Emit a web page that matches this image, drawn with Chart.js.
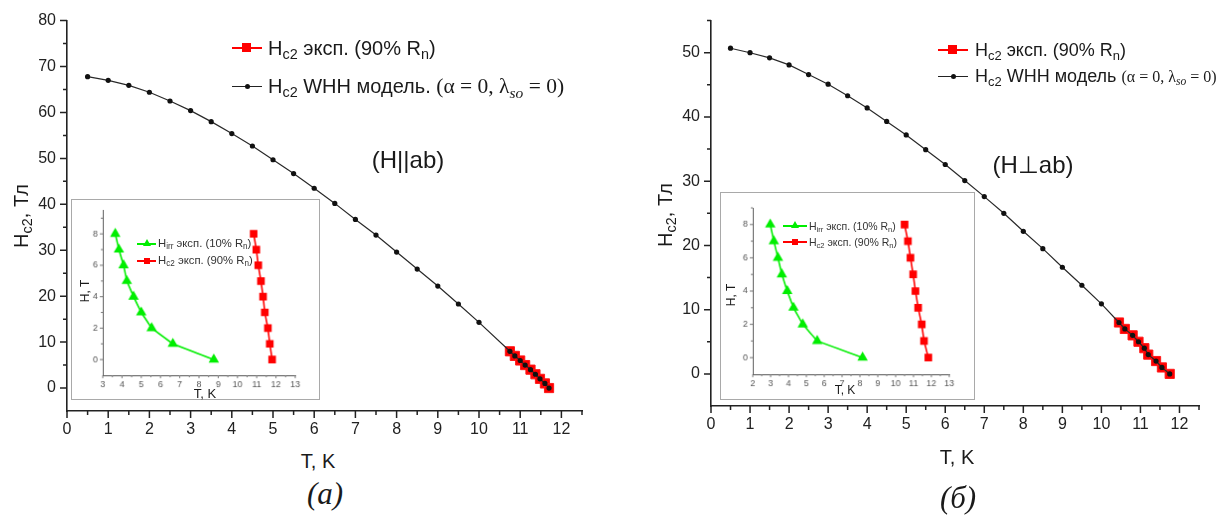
<!DOCTYPE html>
<html lang="ru">
<head>
<meta charset="utf-8">
<title>Hc2(T)</title>
<script src="https://cdn.jsdelivr.net/npm/chart.js@4.4.1/dist/chart.umd.min.js"></script>
<style>
    body {
        margin: 0;
        width: 1225px;
        height: 522px;
        position: relative;
        overflow: hidden;
        background: #fff;
        color: #1a1a1a;
        font-family: "Liberation Sans", Arial, sans-serif;
    }
    canvas { position: absolute; }
    .inset { background: #fff; border: 1px solid #a9a9a9; z-index: 2; }
    .t { position: absolute; white-space: nowrap; z-index: 3; line-height: 1; }
    .c { transform: translate(-50%, -50%); }
    .rot { transform: translate(-50%, -50%) rotate(-90deg); }
    .serif { font-family: "Liberation Serif", "Times New Roman", serif; }
    sub { font-size: 0.72em; vertical-align: -0.3em; line-height: 0; }
    .cap { font-family: "Liberation Serif", serif; font-style: italic; font-size: 31px; }
    .leg { position: absolute; z-index: 3; white-space: nowrap; line-height: 1; }
    .ln { position: absolute; height: 2px; }
    .mk { position: absolute; }
</style>
</head>
<body>

<!-- (a) H || ab -->
<canvas id="chartA" width="600" height="450" style="left:0;top:0"></canvas>
<canvas id="insetA" class="inset" width="249" height="201" style="left:71px;top:199px"></canvas>

<div class="t rot" style="left:21px;top:216px;font-size:20px">H<sub>c2</sub>, Тл</div>
<div class="t c" style="left:318px;top:461px;font-size:20px">T, K</div>
<div class="t c cap" style="left:325px;top:493px">(a)</div>
<div class="t c" style="left:408px;top:160px;font-size:24px">(H||ab)</div>

<div class="leg" style="left:232px;top:48px">
    <span class="ln" style="left:0;width:30px;top:-1px;background:#ff0000"></span>
    <span class="mk" style="left:10px;top:-5px;width:9px;height:9px;background:#ff0000"></span>
    <span class="t" style="left:36px;top:-10px;font-size:20px">H<sub>c2</sub> эксп. (90% R<sub>n</sub>)</span>
</div>
<div class="leg" style="left:232px;top:86px">
    <span class="ln" style="left:0;width:30px;top:-0.5px;height:1px;background:#222"></span>
    <span class="mk" style="left:13px;top:-2px;width:5px;height:5px;border-radius:50%;background:#111"></span>
    <span class="t" style="left:36px;top:-10px;font-size:20px">H<sub>c2</sub> WHH модель. <span class="serif" style="font-size:21.5px">(α = 0, λ<sub><i>so</i></sub> = 0)</span></span>
</div>

<div class="t rot" style="left:85px;top:291px;font-size:12px">H, T</div>
<div class="t c" style="left:205px;top:393px;font-size:13px">T, K</div>
<div class="leg" style="left:137px;top:244px">
    <span class="ln" style="left:0;width:19px;top:-1px;background:#00ee00"></span>
    <span class="mk" style="left:6px;top:-5px;width:0;height:0;border-left:4px solid transparent;border-right:4px solid transparent;border-bottom:7px solid #00ee00"></span>
    <span class="t" style="left:21px;top:-6px;font-size:11.3px;color:#333">H<sub>irr</sub> эксп. (10% R<sub>n</sub>)</span>
</div>
<div class="leg" style="left:137px;top:261px">
    <span class="ln" style="left:0;width:19px;top:-1px;background:#ff0000"></span>
    <span class="mk" style="left:7px;top:-3px;width:6px;height:6px;background:#ff0000"></span>
    <span class="t" style="left:21px;top:-6px;font-size:11.3px;color:#333">H<sub>c2</sub> эксп. (90% R<sub>n</sub>)</span>
</div>

<!-- (б) H ⊥ ab -->
<canvas id="chartB" width="580" height="450" style="left:640px;top:0"></canvas>
<canvas id="insetB" class="inset" width="255" height="208" style="left:720px;top:192px"></canvas>

<div class="t rot" style="left:665px;top:215px;font-size:20px">H<sub>c2</sub>, Тл</div>
<div class="t c" style="left:957px;top:457px;font-size:20px">T, K</div>
<div class="t c cap" style="left:958px;top:497px">(б)</div>
<div class="t c" style="left:1033px;top:165px;font-size:24px">(H⊥ab)</div>

<div class="leg" style="left:938px;top:50px">
    <span class="ln" style="left:0;width:30px;top:-1px;background:#ff0000"></span>
    <span class="mk" style="left:10px;top:-5px;width:9px;height:9px;background:#ff0000"></span>
    <span class="t" style="left:37px;top:-9px;font-size:18px">H<sub>c2</sub> эксп. (90% R<sub>n</sub>)</span>
</div>
<div class="leg" style="left:938px;top:76px">
    <span class="ln" style="left:0;width:30px;top:-0.5px;height:1px;background:#222"></span>
    <span class="mk" style="left:13px;top:-2px;width:5px;height:5px;border-radius:50%;background:#111"></span>
    <span class="t" style="left:37px;top:-9px;font-size:18px">H<sub>c2</sub> WHH модель <span class="serif" style="font-size:16px">(α = 0, λ<sub><i>so</i></sub> = 0)</span></span>
</div>

<div class="t rot" style="left:731px;top:295px;font-size:12px">H, T</div>
<div class="t c" style="left:845px;top:390px;font-size:12px">T, K</div>
<div class="leg" style="left:783px;top:226px">
    <span class="ln" style="left:0;width:24px;top:-1px;background:#00ee00"></span>
    <span class="mk" style="left:8px;top:-5px;width:0;height:0;border-left:4px solid transparent;border-right:4px solid transparent;border-bottom:7px solid #00ee00"></span>
    <span class="t" style="left:26px;top:-5px;font-size:10.5px;color:#333">H<sub>irr</sub> эксп. (10% R<sub>n</sub>)</span>
</div>
<div class="leg" style="left:783px;top:242px">
    <span class="ln" style="left:0;width:24px;top:-1px;background:#ff0000"></span>
    <span class="mk" style="left:9px;top:-3px;width:6px;height:6px;background:#ff0000"></span>
    <span class="t" style="left:26px;top:-5px;font-size:10.5px;color:#333">H<sub>c2</sub> эксп. (90% R<sub>n</sub>)</span>
</div>

<script>
// ========================================
// DATA
// ========================================

// field steps of the experiment, T (same for every experimental curve)
const hExp = [8, 7, 6, 5, 4, 3, 2, 1, 0];

// (a) H || ab : WHH model
const tWhhA = [0.5, 1.0, 1.5, 2.0, 2.5, 3.0, 3.5, 4.0, 4.5, 5.0, 5.5, 6.0, 6.5, 7.0, 7.5, 8.0, 8.5, 9.0, 9.5, 10.0,
               10.75, 10.87, 11.0, 11.12, 11.25, 11.37, 11.48, 11.6, 11.7];
const hWhhA = [67.8, 67.0, 65.9, 64.4, 62.5, 60.4, 58.0, 55.4, 52.7, 49.7, 46.7, 43.5, 40.2, 36.7, 33.3, 29.6, 25.9, 22.2, 18.3, 14.3,
               8, 7, 6, 5, 4, 3, 2, 1, 0];
// (a) experiment, 90% Rn, main plot
const tExpA = [10.75, 10.87, 11.0, 11.12, 11.25, 11.37, 11.48, 11.6, 11.7];
// (a) inset: 10% Rn and 90% Rn
const tIrrA = [3.65, 3.84, 4.08, 4.25, 4.6, 5.0, 5.54, 6.64, 8.77];
const tC2A = [10.84, 10.98, 11.08, 11.22, 11.33, 11.42, 11.58, 11.68, 11.8];

// (б) H ⊥ ab : WHH model
const tWhhB = [0.5, 1.0, 1.5, 2.0, 2.5, 3.0, 3.5, 4.0, 4.5, 5.0, 5.5, 6.0, 6.5, 7.0, 7.5, 8.0, 8.5, 9.0, 9.5, 10.0,
               10.45, 10.6, 10.8, 10.95, 11.1, 11.2, 11.4, 11.55, 11.75];
const hWhhB = [50.7, 50.0, 49.2, 48.1, 46.6, 45.1, 43.3, 41.4, 39.3, 37.2, 34.9, 32.6, 30.1, 27.6, 25.0, 22.2, 19.5, 16.6, 13.8, 10.9,
               8, 7, 6, 5, 4, 3, 2, 1, 0];
const tExpB = [10.45, 10.6, 10.8, 10.95, 11.1, 11.2, 11.4, 11.55, 11.75];
const tIrrB = [2.98, 3.18, 3.41, 3.63, 3.93, 4.28, 4.8, 5.61, 8.15];
const tC2B = [10.5, 10.69, 10.83, 10.98, 11.11, 11.26, 11.46, 11.59, 11.83];

// tick labels
const xTicksMain = [0, 1, 2, 3, 4, 5, 6, 7, 8, 9, 10, 11, 12];
const yTicksA = [0, 10, 20, 30, 40, 50, 60, 70, 80];
const yTicksB = [0, 10, 20, 30, 40, 50];
const xTicksInsetA = [3, 4, 5, 6, 7, 8, 9, 10, 11, 12, 13];
const xTicksInsetB = [2, 3, 4, 5, 6, 7, 8, 9, 10, 11, 12, 13];
const yTicksInset = [0, 2, 4, 6, 8];

// ========================================
// HELPERS
// ========================================
function pts(xs, ys) {
    return xs.map((x, i) => ({ x: x, y: ys[i] }));
}

// outward major + minor tick marks, drawn from the scales
const tickMarks = {
    id: 'tickMarks',
    afterDraw(chart, args, opts) {
        const ctx = chart.ctx;
        const xs = chart.scales.x;
        const ys = chart.scales.y;
        ctx.save();
        ctx.strokeStyle = opts.color;
        ctx.lineWidth = opts.width;
        ctx.beginPath();
        const marks = (scale, step, fn) => {
            scale.ticks.forEach(t => {
                fn(scale.getPixelForValue(t.value), opts.len);
                const m = t.value + step / 2;
                if (m <= scale.max + 1e-9) fn(scale.getPixelForValue(m), opts.minorLen);
            });
        };
        marks(xs, opts.xStep, (p, l) => { ctx.moveTo(p, xs.top); ctx.lineTo(p, xs.top + l); });
        marks(ys, opts.yStep, (p, l) => { ctx.moveTo(ys.right, p); ctx.lineTo(ys.right - l, p); });
        ctx.stroke();
        ctx.restore();
    }
};

function axis(min, max, ticks, size, isX, font, pad, color, bw) {
    return {
        type: 'linear',
        min: min,
        max: max,
        afterBuildTicks: s => { s.ticks = ticks.map(v => ({ value: v })); },
        afterFit: s => { if (isX) s.height = size; else s.width = size; },
        grid: { drawOnChartArea: false, drawTicks: false },
        border: { display: true, color: color, width: bw },
        ticks: { font: font, color: color, padding: pad, maxRotation: 0, autoSkip: false }
    };
}

// ========================================
// MAIN CHARTS
// ========================================
function mainChart(id, whhT, whhH, expT, yMin, yMax, yTicks, lay) {
    const font = { family: '"Liberation Sans", Arial, sans-serif', size: 16 };
    new Chart(document.getElementById(id), {
        type: 'scatter',
        data: {
            datasets: [{
                label: 'WHH',
                data: pts(whhT, whhH),
                showLine: true,
                borderColor: '#2a2a2a',
                borderWidth: 1.2,
                pointStyle: 'circle',
                pointRadius: 2.6,
                pointBackgroundColor: '#111',
                pointBorderWidth: 0
            }, {
                label: 'exp',
                data: pts(expT, hExp),
                showLine: true,
                borderColor: '#ff0000',
                borderWidth: 2,
                pointStyle: 'rect',
                pointRadius: 6.5,
                pointBackgroundColor: '#ff0000',
                pointBorderColor: '#ff1a1a',
                pointBorderWidth: 1
            }]
        },
        options: {
            responsive: false,
            animation: false,
            layout: { padding: { left: 0, top: lay.top, right: lay.right, bottom: 0 } },
            plugins: {
                legend: { display: false },
                tooltip: { enabled: false },
                tickMarks: { color: '#222', width: 1.5, len: 7, minorLen: 4, xStep: 1, yStep: yTicks[1] - yTicks[0] }
            },
            scales: {
                x: axis(0, 12.5, xTicksMain, lay.xh, true, font, 9, '#222', 1.6),
                y: axis(yMin, yMax, yTicks, lay.yw, false, font, 11, '#222', 1.6)
            }
        },
        plugins: [tickMarks]
    });
}

// ========================================
// INSET CHARTS
// ========================================
function insetChart(id, irrT, c2T, xMin, xTicks, yMax, lay) {
    const font = { family: '"Liberation Sans", Arial, sans-serif', size: 9 };
    new Chart(document.getElementById(id), {
        type: 'scatter',
        data: {
            datasets: [{
                label: 'irr',
                data: pts(irrT, hExp),
                showLine: true,
                borderColor: '#00ee00',
                borderWidth: 1.6,
                pointStyle: 'triangle',
                pointRadius: 4.5,
                pointBackgroundColor: '#00ee00',
                pointBorderColor: '#00ee00'
            }, {
                label: 'c2',
                data: pts(c2T, hExp),
                showLine: true,
                borderColor: '#ff0000',
                borderWidth: 1.6,
                pointStyle: 'rect',
                pointRadius: 4.3,
                pointBackgroundColor: '#ff0000',
                pointBorderColor: '#ff0000'
            }]
        },
        options: {
            responsive: false,
            animation: false,
            layout: { padding: { left: 0, top: lay.top, right: lay.right, bottom: 0 } },
            plugins: {
                legend: { display: false },
                tooltip: { enabled: false },
                tickMarks: { color: '#777', width: 1, len: 3, minorLen: 2, xStep: 1, yStep: 2 }
            },
            scales: {
                x: axis(xMin, 13, xTicks, lay.xh, true, font, 4, '#555', 1),
                y: axis(-1, yMax, yTicksInset, lay.yw, false, font, 5, '#555', 1)
            }
        },
        plugins: [tickMarks]
    });
}

mainChart('chartA', tWhhA, hWhhA, tExpA, -5, 80, yTicksA, { top: 20, right: 18, xh: 39, yw: 67 });
mainChart('chartB', tWhhB, hWhhB, tExpB, -5, 55, yTicksB, { top: 18, right: 21, xh: 44, yw: 71 });
insetChart('insetA', tIrrA, tC2A, 3, xTicksInsetA, 9.5, { top: 7, right: 24, xh: 24, yw: 31 });
insetChart('insetB', tIrrB, tC2B, 2, xTicksInsetB, 9, { top: 15, right: 25, xh: 25, yw: 32 });
</script>
</body>
</html>
